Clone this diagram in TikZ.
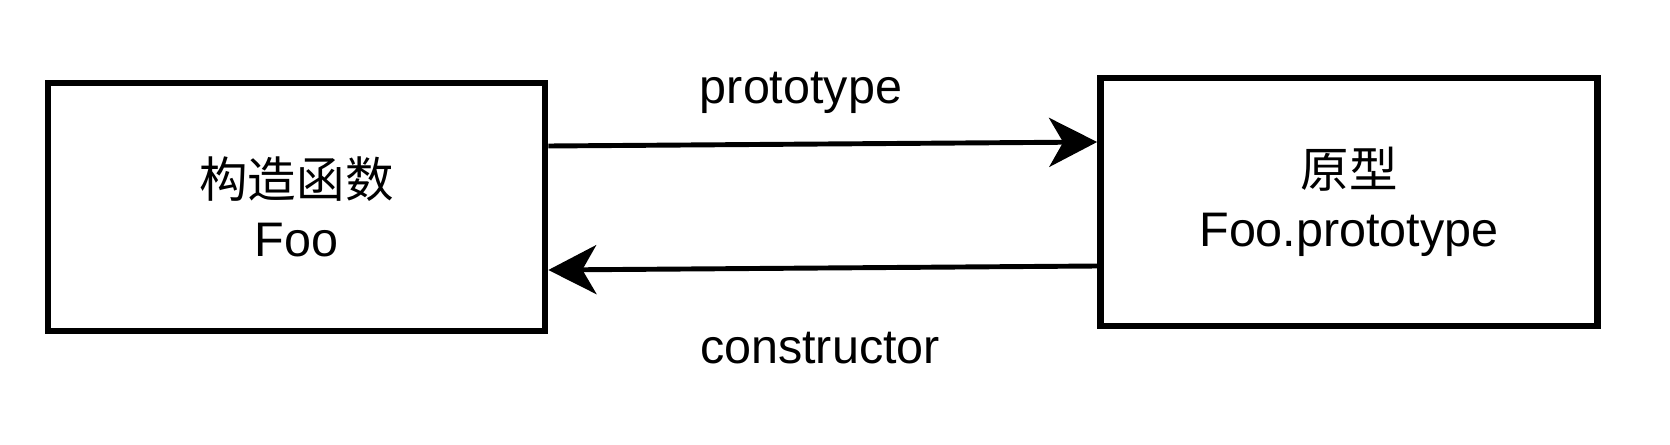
\documentclass[tikz,border=0pt]{standalone}
\usepackage{fontspec}
\setmainfont{Liberation Sans}
\newfontfamily\cjk{Noto Sans CJK SC}
\usetikzlibrary{positioning}
\usetikzlibrary{arrows.meta}

\begin{document}
\begin{tikzpicture}[
    objbox/.style={draw, line width=1.9pt, minimum width=4.97cm, minimum height=2.48cm, align=center, font=\fontsize{13.8}{16.8}\selectfont},
    link/.style={line width=1.4pt, -{Stealth[length=0.48cm, width=0.49cm, inset=0.14cm]}},
    lbl/.style={font=\fontsize{13.8}{16.8}\selectfont}
]
    \useasboundingbox (0,0) rectangle (16.7,4.44);

    \node[objbox] (ctor) at (2.965,2.37) {{\cjk 构造函数}\\Foo};
    \node[objbox] (proto) at (13.49,2.42) {{\cjk 原型}\\Foo.prototype};

    \draw[link] ([yshift=0.61cm]ctor.east) -- ([yshift=0.60cm]proto.west);
    \draw[link] ([yshift=-0.64cm]proto.west) -- ([yshift=-0.63cm]ctor.east);

    \node[lbl] (ptxt) at (8.01,3.51) {prototype};
    \node[lbl] (ctxt) at (8.20,0.96) {constructor};
\end{tikzpicture}
\end{document}
